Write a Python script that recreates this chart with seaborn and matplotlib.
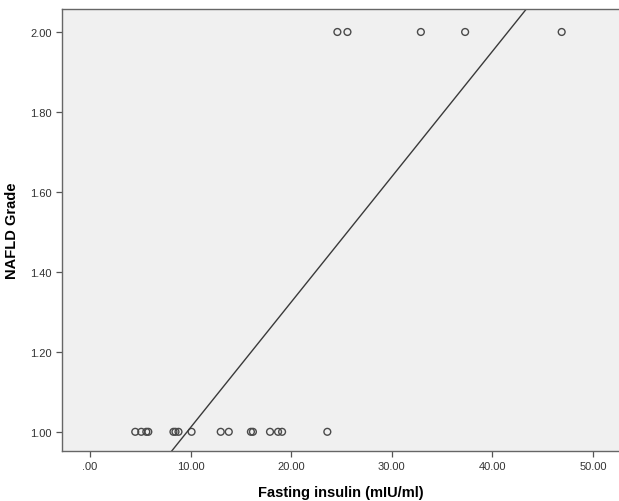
import matplotlib

matplotlib.use("Agg")
import matplotlib.pyplot as plt
import pandas as pd
import seaborn as sns
from matplotlib.ticker import FuncFormatter

# fasting insulin (mIU/ml) per patient, split by NAFLD grade
insulinGrade1 = [4.5, 5.1, 5.6, 5.8, 8.3, 8.5, 8.8, 10.1, 13.0, 13.8,
                 16.0, 16.2, 17.9, 18.7, 19.1, 23.6]
insulinGrade2 = [24.6, 25.6, 32.9, 37.3, 46.9]

xTicks = [0, 10, 20, 30, 40, 50]
yTicks = [1.0, 1.2, 1.4, 1.6, 1.8, 2.0]

df = pd.DataFrame(
    {
        "insulin": insulinGrade1 + insulinGrade2,
        "grade": [1.0] * len(insulinGrade1) + [2.0] * len(insulinGrade2),
    }
)


def spssFormat(v, _pos) -> str:
    s = f"{v:.2f}"
    if s.startswith("0."):
        s = s[1:]
    return s


plt.rcParams["font.family"] = ["Liberation Sans", "DejaVu Sans"]

fig = plt.figure(figsize=(6.19, 5.02), dpi=100)
ax = fig.add_axes([0.1002, 0.0996, 0.8998, 0.8805])
ax.set_facecolor("#f0f0f0")

ax.set_xlim(-2.78, 52.6)
ax.set_ylim(0.952, 2.0575)

sns.scatterplot(
    data=df,
    x="insulin",
    y="grade",
    ax=ax,
    s=24,
    facecolor="none",
    edgecolor="#4a4a4a",
    linewidth=1.0,
)
sns.regplot(
    data=df,
    x="insulin",
    y="grade",
    ax=ax,
    scatter=False,
    ci=None,
    truncate=False,
    line_kws={"color": "#3a3a3a", "linewidth": 1.0},
)

ax.set_xlim(-2.78, 52.6)
ax.set_ylim(0.952, 2.0575)
ax.set_xticks(xTicks)
ax.set_yticks(yTicks)
ax.xaxis.set_major_formatter(FuncFormatter(spssFormat))
ax.yaxis.set_major_formatter(FuncFormatter(spssFormat))
ax.tick_params(labelsize=8, labelcolor="#333333", color="#555555",
               length=4, width=0.9)

for side in ["left", "bottom", "top"]:
    ax.spines[side].set_color("#666666")
    ax.spines[side].set_linewidth(1.0)
ax.spines["right"].set_visible(False)

ax.set_xlabel("Fasting insulin (mIU/ml)", fontsize=10.5, fontweight="bold",
              labelpad=10)
ax.set_ylabel("NAFLD Grade", fontsize=10.5, fontweight="bold", labelpad=8)

fig.savefig("out.png", dpi=100)
